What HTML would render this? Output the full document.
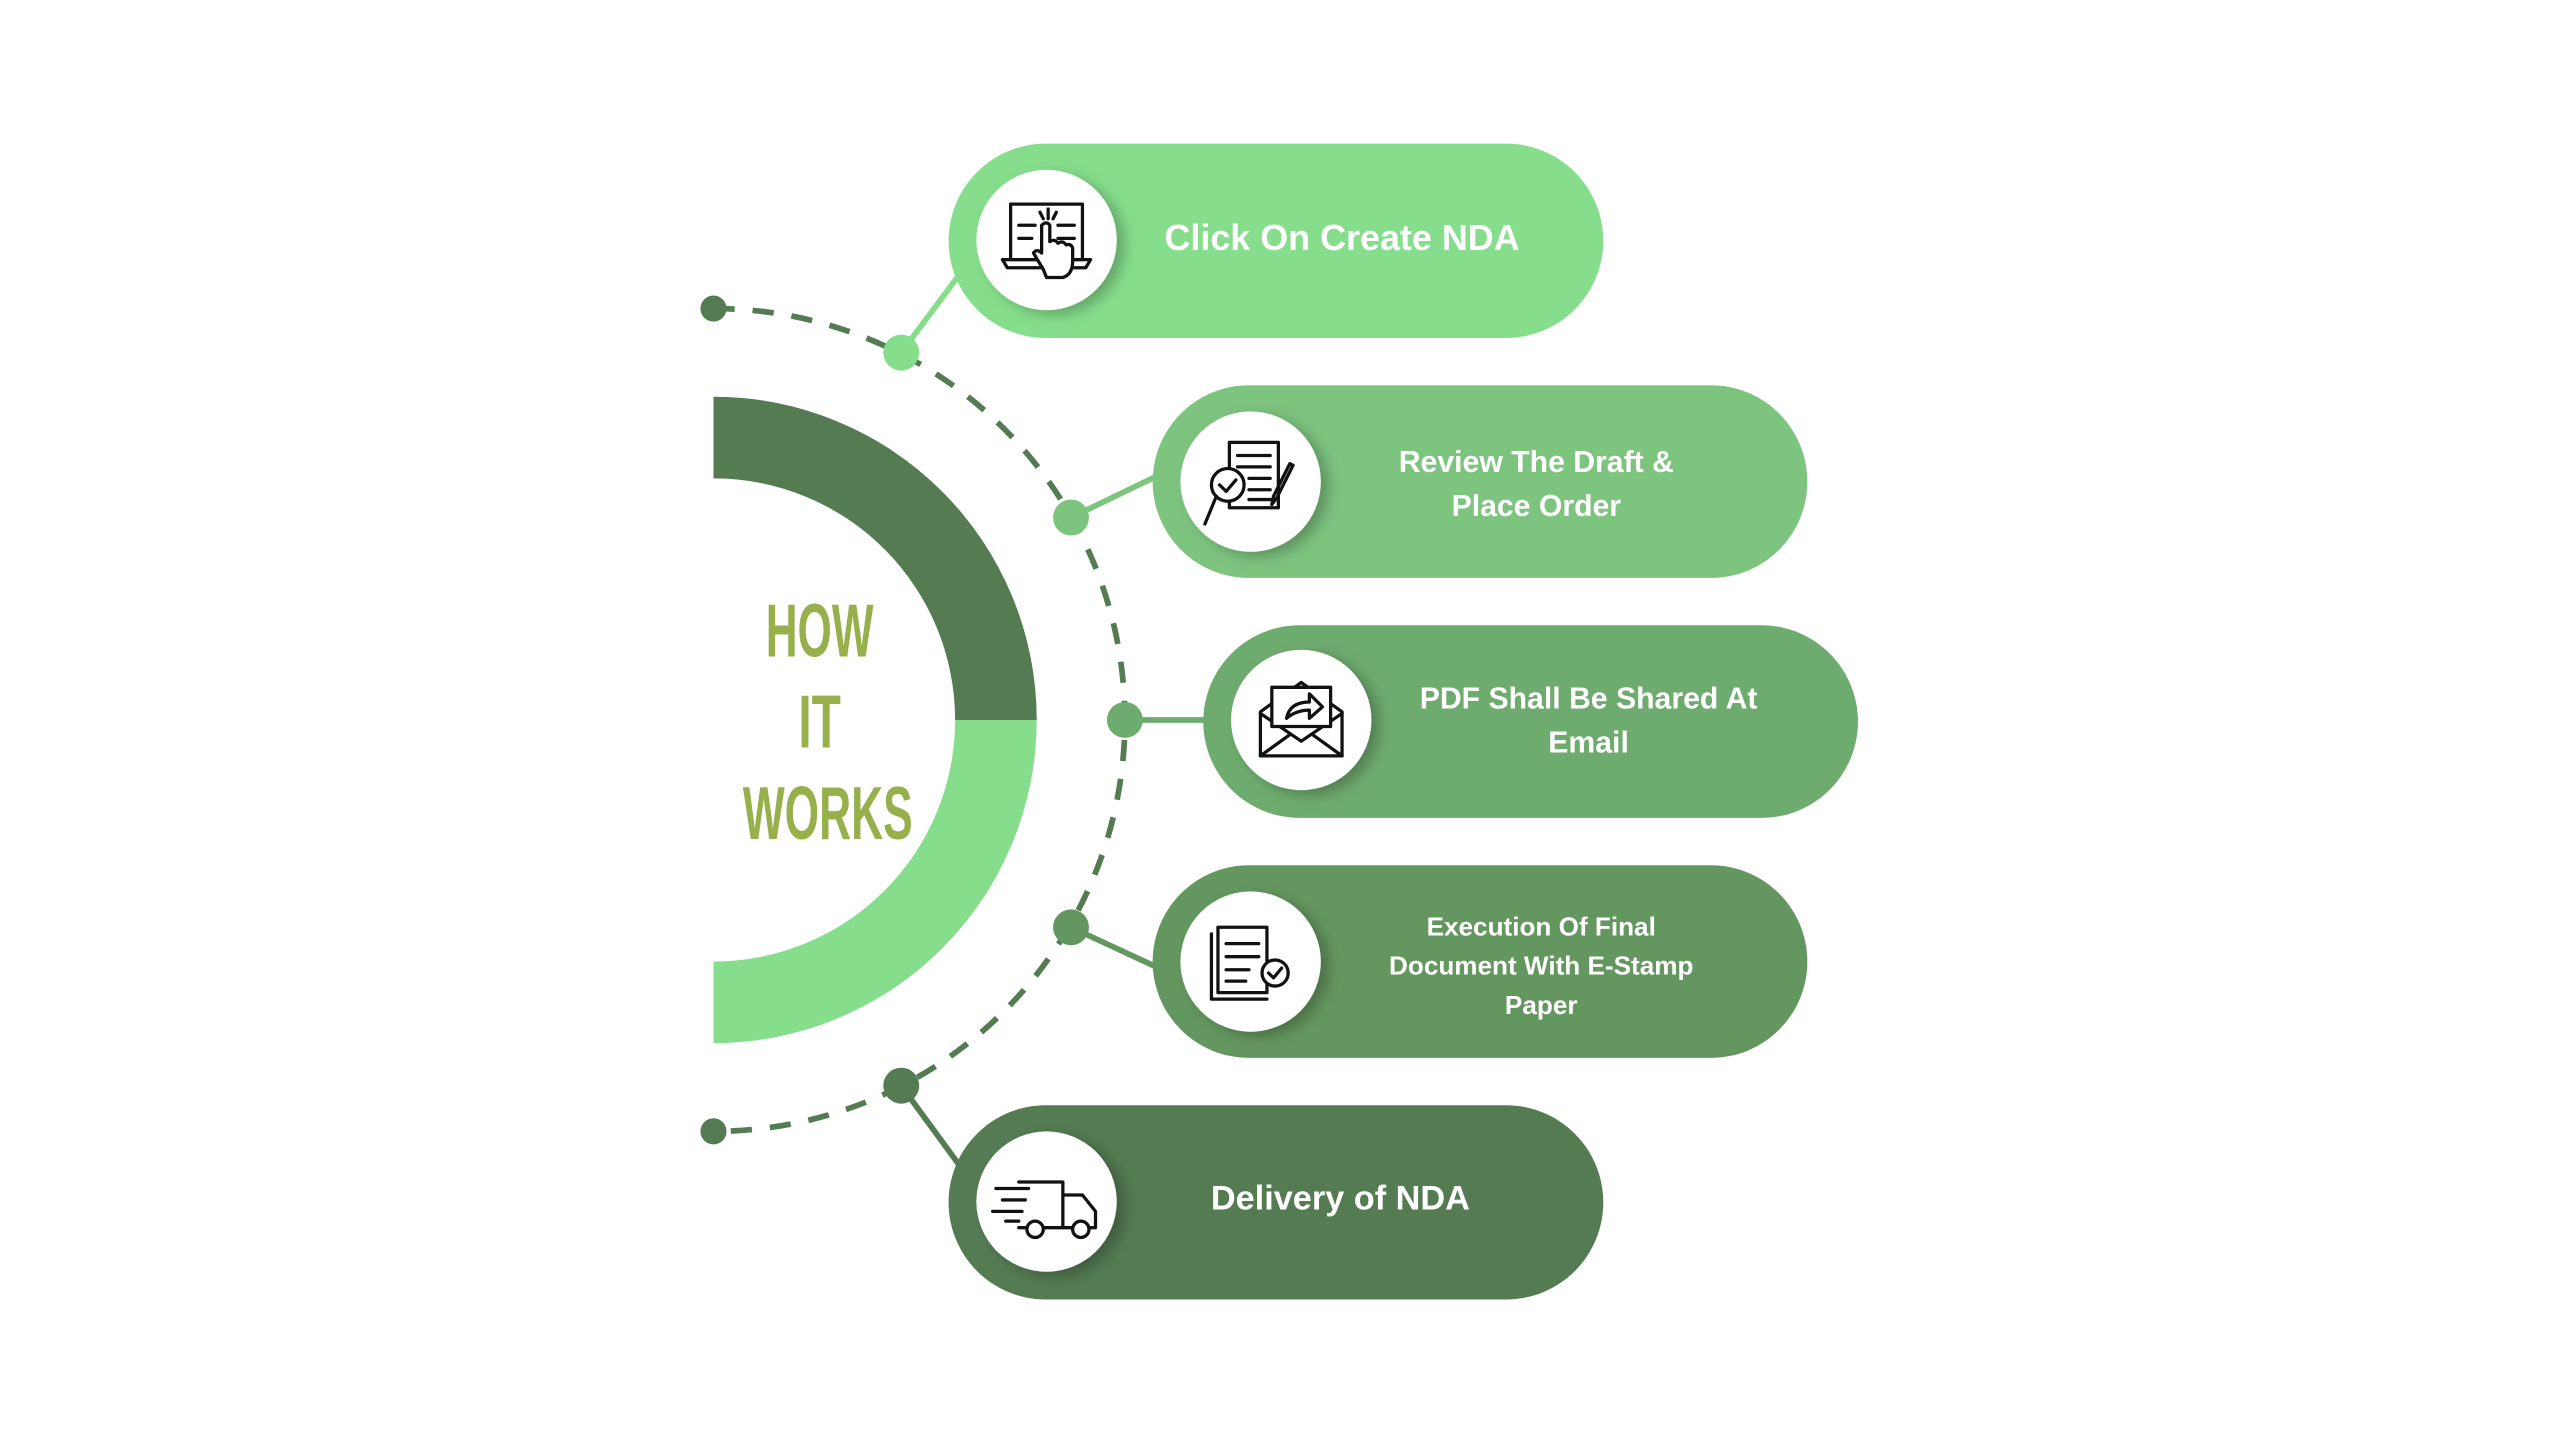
<!DOCTYPE html>
<html><head><meta charset="utf-8"><style>
html,body{margin:0;padding:0;background:#fff;}
svg{display:block}
text{font-family:"Liberation Sans","DejaVu Sans",sans-serif;font-weight:bold;fill:#fff;text-anchor:middle}
</style></head><body>
<svg width="2560" height="1444" viewBox="0 0 1568 884.5" preserveAspectRatio="none" xmlns="http://www.w3.org/2000/svg">
<defs>
<filter id="sh" x="-30%" y="-30%" width="160%" height="160%"><feDropShadow dx="5" dy="3" stdDeviation="4" flood-color="#000" flood-opacity="0.25"/></filter>
</defs>
<rect width="1568" height="885" fill="#fff"/>
<!-- half ring -->
<path d="M437 243 A198 198 0 0 1 635 441 L585 441 A148 148 0 0 0 437 293 Z" fill="#547B52"/>
<path d="M635 441 A198 198 0 0 1 437 639 L437 589 A148 148 0 0 0 585 441 Z" fill="#86DE8C"/>
<!-- dashed arc -->
<path d="M437 189 A252 252 0 0 1 437 693" fill="none" stroke="#547B52" stroke-width="3.5" stroke-dasharray="13 11"/>
<!-- connectors -->
<g stroke-width="3.5">
<line x1="552" y1="216" x2="590" y2="165" stroke="#86DE8C"/>
<line x1="656" y1="317" x2="712" y2="290" stroke="#7DC47F"/>
<line x1="689" y1="441" x2="740" y2="441" stroke="#6EAB6E"/>
<line x1="656" y1="568" x2="712" y2="594" stroke="#64975F"/>
<line x1="552" y1="665" x2="590" y2="717" stroke="#547B52"/>
</g>
<circle cx="437" cy="189" r="8" fill="#547B52"/>
<circle cx="437" cy="693" r="8" fill="#547B52"/>
<circle cx="552" cy="216" r="11" fill="#86DE8C"/>
<circle cx="656" cy="317" r="11" fill="#7DC47F"/>
<circle cx="689" cy="441" r="11" fill="#6EAB6E"/>
<circle cx="656" cy="568" r="11" fill="#64975F"/>
<circle cx="552" cy="665" r="11" fill="#547B52"/>
<!-- pills -->
<rect x="581" y="88" width="401" height="119" rx="59.5" fill="#86DE8C"/>
<rect x="706" y="236" width="401" height="118" rx="59" fill="#7DC47F"/>
<rect x="737" y="383" width="401" height="118" rx="59" fill="#6EAB6E"/>
<rect x="706" y="530" width="401" height="118" rx="59" fill="#64975F"/>
<rect x="581" y="677" width="401" height="119" rx="59.5" fill="#547B52"/>
<!-- icon circles -->
<g fill="#fff" filter="url(#sh)">
<circle cx="641" cy="147" r="43"/>
<circle cx="766" cy="295" r="43"/>
<circle cx="797" cy="441" r="43"/>
<circle cx="766" cy="589" r="43"/>
<circle cx="641" cy="736" r="43"/>
</g>
<!-- icons -->
<g fill="none" stroke="#111" stroke-width="2" stroke-linecap="round" stroke-linejoin="round">
<!-- 1 -->
<rect x="619" y="125" width="44" height="34"/>
<path d="M614 159 h54 l-3 5 h-48 z"/>
<path d="M624 138h10M624 146h8M648 138h10M648 146h10M642 128v6M637 130l2 4M647 130l-2 4"/>
<path d="M639 165 l-6 -10 q2 -3 5 0 v-17 q3 -3 5 0 v10 q3 -2 5 1 q3 -2 5 1 q3 -1 4 2 v8 q0 8 -6 10 h-10 z" fill="#fff"/>
<!-- 2 -->
<rect x="753" y="271" width="30" height="40" fill="#fff"/>
<path d="M758 279h20M758 286h20M765 293h13M765 300h13M765 306h13"/>
<circle cx="752" cy="297" r="10" fill="#fff"/><path d="M747 297l4 4 6 -7"/>
<path d="M745 304l-7 17"/><path d="M790 284l-10 20 -1 5 3 -4 10 -20z"/>
<!-- 3 -->
<path d="M772 436 v27 h50 v-27 l-25 -18 z"/>
<path d="M772 437l25 17 25 -17M772 463l18 -13M822 463l-18 -13"/>
<rect x="779" y="421" width="36" height="24" fill="#fff"/>
<path d="M788 440 q2 -10 14 -10 v-5 l8 8 -8 7 v-5 q-8 0 -14 5z"/>
<!-- 4 -->
<rect x="746" y="568" width="30" height="40" fill="#fff"/>
<path d="M742 572v40h34M751 578h20M751 586h20M751 594h14M751 601h12"/>
<circle cx="781" cy="596" r="8" fill="#fff"/><path d="M777 596l3 3 5 -6"/>
<!-- 5 -->
<path d="M624 724 h27 v28 h-27M651 732 h12 l8 10 v10 h-20"/>
<circle cx="634" cy="753" r="5" fill="#fff"/><circle cx="662" cy="753" r="5" fill="#fff"/>
<path d="M610 728h20M614 735h14M608 742h18M616 748h8"/>
</g>
<!-- labels -->
<text x="822" y="153" font-size="22">Click On Create NDA</text>
<text x="941" y="289" font-size="18.5">Review The Draft &amp;</text>
<text x="941" y="316" font-size="18.5">Place Order</text>
<text x="973" y="434" font-size="18.5">PDF Shall Be Shared At</text>
<text x="973" y="461" font-size="18.5">Email</text>
<text x="944" y="573" font-size="16">Execution Of Final</text>
<text x="944" y="597" font-size="16">Document With E-Stamp</text>
<text x="944" y="621" font-size="16">Paper</text>
<text x="821" y="741" font-size="21">Delivery of NDA</text>
<!-- HOW IT WORKS -->
<g style="fill:#97B04B">
<text x="502" y="402" font-size="46" textLength="66" lengthAdjust="spacingAndGlyphs" style="fill:#97B04B">HOW</text>
<text x="502" y="458" font-size="46" textLength="26" lengthAdjust="spacingAndGlyphs" style="fill:#97B04B">IT</text>
<text x="507" y="514" font-size="46" textLength="104" lengthAdjust="spacingAndGlyphs" style="fill:#97B04B">WORKS</text>
</g>
</svg>
</body></html>
